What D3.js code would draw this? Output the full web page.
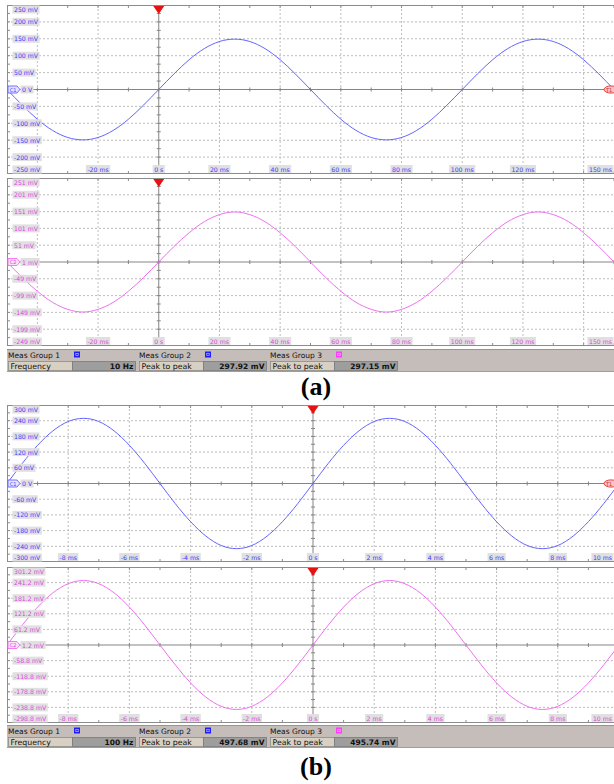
<!DOCTYPE html>
<html>
<head>
<meta charset="utf-8">
<script src="https://cdn.jsdelivr.net/npm/d3@7/dist/d3.min.js"></script>
<style>
  html, body { margin: 0; padding: 0; background: #fff; }
  svg { display: block; }
</style>
</head>
<body>
<script>
// ---- Capture (a): 10 Hz, 20 ms/div ----
const timeA = [-50,-45,-40,-35,-30,-25,-20,-15,-10,-5,0,5,10,15,20,25,30,35,40,45,50,
               55,60,65,70,75,80,85,90,95,100,105,110,115,120,125,130,135,140,145,150];
const ch1A = [0,-46,-88,-121,-142,-149,-142,-121,-88,-46,0,46,88,121,142,149,142,121,88,46,0,
              -46,-88,-121,-142,-149,-142,-121,-88,-46,0,46,88,121,142,149,142,121,88,46,0];
const ch2A = [1,-45,-86,-119,-140,-148,-140,-119,-86,-45,1,47,88,121,142,150,142,121,88,47,1,
              -45,-86,-119,-140,-148,-140,-119,-86,-45,1,47,88,121,142,150,142,121,88,47,1];
const yTicksA1 = [250,200,150,100,50,0,-50,-100,-150,-200,-250];
const yLabelsA1 = ["250 mV","200 mV","150 mV","100 mV","50 mV","0 V","-50 mV","-100 mV","-150 mV","-200 mV","-250 mV"];
const yTicksA2 = [251,201,151,101,51,1,-49,-99,-149,-199,-249];
const yLabelsA2 = ["251 mV","201 mV","151 mV","101 mV","51 mV","1 mV","-49 mV","-99 mV","-149 mV","-199 mV","-249 mV"];
const xTicksA = [-20,0,20,40,60,80,100,120,150];
const xLabelsA = ["-20 ms","0 s","20 ms","40 ms","60 ms","80 ms","100 ms","120 ms","150 ms"];
const measNamesA = ["Frequency","Peak to peak","Peak to peak"];
const measValuesA = ["10 Hz","297.92 mV","297.15 mV"];

// ---- Capture (b): 100 Hz, 2 ms/div ----
const timeB = [-10,-9.5,-9,-8.5,-8,-7.5,-7,-6.5,-6,-5.5,-5,-4.5,-4,-3.5,-3,-2.5,-2,-1.5,-1,-0.5,0,
               0.5,1,1.5,2,2.5,3,3.5,4,4.5,5,5.5,6,6.5,7,7.5,8,8.5,9,9.5,10];
const ch1B = [0,77,146,201,237,249,237,201,146,77,0,-77,-146,-201,-237,-249,-237,-201,-146,-77,0,
              77,146,201,237,249,237,201,146,77,0,-77,-146,-201,-237,-249,-237,-201,-146,-77,0];
const ch2B = [1.2,77.8,147,201.7,237,249.1,237,201.7,147,77.8,1.2,-75.4,-144.6,-199.3,-234.6,-246.7,-234.6,-199.3,-144.6,-75.4,1.2,
              77.8,147,201.7,237,249.1,237,201.7,147,77.8,1.2,-75.4,-144.6,-199.3,-234.6,-246.7,-234.6,-199.3,-144.6,-75.4,1.2];
const yTicksB1 = [300,240,180,120,60,0,-60,-120,-180,-240,-300];
const yLabelsB1 = ["300 mV","240 mV","180 mV","120 mV","60 mV","0 V","-60 mV","-120 mV","-180 mV","-240 mV","-300 mV"];
const yTicksB2 = [301.2,241.2,181.2,121.2,61.2,1.2,-58.8,-118.8,-178.8,-238.8,-298.8];
const yLabelsB2 = ["301.2 mV","241.2 mV","181.2 mV","121.2 mV","61.2 mV","1.2 mV","-58.8 mV","-118.8 mV","-178.8 mV","-238.8 mV","-298.8 mV"];
const xTicksB = [-8,-6,-4,-2,0,2,4,6,8,10];
const xLabelsB = ["-8 ms","-6 ms","-4 ms","-2 ms","0 s","2 ms","4 ms","6 ms","8 ms","10 ms"];
const measNamesB = ["Frequency","Peak to peak","Peak to peak"];
const measValuesB = ["100 Hz","497.68 mV","495.74 mV"];

const groupNames = ["Meas Group 1","Meas Group 2","Meas Group 3"];

// ---- styling ----
const W = 614, H = 784;
const LEFT = 7, RIGHT = 614;
const C1 = { trace: "#6464ff", text: "#3b3bff", badge: "#e4e4ff" };
const C2 = { trace: "#f070f0", text: "#dc46dc", badge: "#fbe0fb" };
const GRID = "#bdbdbd", FRAME = "#8c8c8c", AXIS = "#858585";
const LABEL_BG = "#e0e0e0";
const LABEL_FONT = "DejaVu Sans, Verdana, sans-serif";

const svg = d3.select("body").append("svg")
  .attr("width", W).attr("height", H)
  .attr("viewBox", `0 0 ${W} ${H}`);

let clipCount = 0;

function boxedLabel(g, text, cx, cy, color, anchor, rightLimit) {
  const t = g.append("text")
    .attr("font-family", LABEL_FONT)
    .attr("font-size", 6.2)
    .attr("fill", color)
    .attr("dominant-baseline", "central")
    .text(text);
  const w = t.node().getComputedTextLength();
  let x0 = anchor === "start" ? cx : cx - w / 2;
  if (rightLimit !== undefined && x0 + w > rightLimit) x0 = rightLimit - w;
  t.attr("x", x0).attr("y", cy);
  g.insert("rect", () => t.node())
    .attr("x", x0 - 1.5).attr("y", cy - 4)
    .attr("width", w + 3).attr("height", 8)
    .attr("fill", LABEL_BG);
}

function drawPanel(p) {
  const g = svg.append("g");
  const x = p.x;
  const y = d3.scaleLinear().domain(p.yDomain).range([p.bottom, p.top]);
  const yMid = (p.yDomain[0] + p.yDomain[1]) / 2;
  const yDiv = (p.yDomain[1] - p.yDomain[0]) / 10;
  const xd = x.domain();
  const id = "clip" + (clipCount++);
  g.append("clipPath").attr("id", id).append("rect")
    .attr("x", LEFT).attr("y", p.top).attr("width", RIGHT - LEFT).attr("height", p.bottom - p.top);

  g.append("rect").attr("x", LEFT).attr("y", p.top)
    .attr("width", RIGHT - LEFT).attr("height", p.bottom - p.top).attr("fill", "#fff");

  const body = g.append("g").attr("clip-path", `url(#${id})`);

  // dashed graticule
  const xGrid = d3.range(Math.ceil(xd[0] / p.xDiv) * p.xDiv, xd[1] + 1e-9, p.xDiv)
    .filter(v => Math.abs(v) > 1e-9 && x(v) > LEFT + 0.5 && x(v) < RIGHT);
  const yGrid = d3.range(1, 5).flatMap(k => [yMid + k * yDiv, yMid - k * yDiv]);
  body.selectAll(null).data(xGrid).join("line")
    .attr("x1", d => x(d)).attr("x2", d => x(d)).attr("y1", p.top).attr("y2", p.bottom)
    .attr("stroke", GRID).attr("stroke-width", 1).attr("stroke-dasharray", "2,2");
  body.selectAll(null).data(yGrid).join("line")
    .attr("x1", LEFT).attr("x2", RIGHT).attr("y1", d => y(d)).attr("y2", d => y(d))
    .attr("stroke", GRID).attr("stroke-width", 1).attr("stroke-dasharray", "2,2");

  // centre axes with half-division ticks
  body.append("line").attr("x1", LEFT).attr("x2", RIGHT).attr("y1", y(yMid)).attr("y2", y(yMid))
    .attr("stroke", AXIS).attr("stroke-width", 1);
  body.append("line").attr("x1", x(0)).attr("x2", x(0)).attr("y1", p.top).attr("y2", p.bottom)
    .attr("stroke", AXIS).attr("stroke-width", 1);
  const xHalf = d3.range(Math.ceil(xd[0] / (p.xDiv / 2)) * (p.xDiv / 2), xd[1] + 1e-9, p.xDiv / 2);
  const yHalf = d3.range(p.yDomain[0], p.yDomain[1] + 1e-9, yDiv / 2);
  body.selectAll(null).data(xHalf).join("line")
    .attr("x1", d => x(d)).attr("x2", d => x(d))
    .attr("y1", y(yMid) - 2).attr("y2", y(yMid) + 2)
    .attr("stroke", AXIS).attr("stroke-width", 1);
  body.selectAll(null).data(yHalf).join("line")
    .attr("x1", x(0) - 2).attr("x2", x(0) + 2)
    .attr("y1", d => y(d)).attr("y2", d => y(d))
    .attr("stroke", AXIS).attr("stroke-width", 1);

  // frame ticks every half division
  body.selectAll(null).data(xHalf).join("line")
    .attr("x1", d => x(d)).attr("x2", d => x(d)).attr("y1", p.top).attr("y2", p.top + 3)
    .attr("stroke", FRAME);
  body.selectAll(null).data(xHalf).join("line")
    .attr("x1", d => x(d)).attr("x2", d => x(d)).attr("y1", p.bottom - 3).attr("y2", p.bottom)
    .attr("stroke", FRAME);
  body.selectAll(null).data(yHalf).join("line")
    .attr("x1", LEFT).attr("x2", LEFT + 3).attr("y1", d => y(d)).attr("y2", d => y(d))
    .attr("stroke", FRAME);

  // waveform
  const line = d3.line().x((d, i) => x(p.t[i])).y(d => y(d)).curve(d3.curveNatural);
  body.append("path").datum(p.v).attr("d", line)
    .attr("fill", "none").attr("stroke", p.color.trace).attr("stroke-width", 1);

  // frame
  g.append("rect").attr("x", LEFT + 0.5).attr("y", p.top + 0.5)
    .attr("width", RIGHT - LEFT).attr("height", p.bottom - p.top - 1)
    .attr("fill", "none").attr("stroke", FRAME).attr("stroke-width", 1);

  // amplitude labels (the zero-line label sits right of the channel badge)
  const lab = g.append("g");
  p.yTicks.forEach((v, i) => {
    const cy = Math.max(p.top + 4.5, Math.min(p.bottom - 4.5, y(v)));
    const onZero = Math.abs(v - yMid) < 1e-9;
    boxedLabel(lab, p.yLabels[i], onZero ? LEFT + 15 : 14, cy, p.color.text, "start");
  });
  // time labels
  p.xTicks.forEach((v, i) => {
    boxedLabel(lab, p.xLabels[i], x(v), p.bottom - 5, p.color.text, "middle", 612);
  });

  // channel badge on the zero line
  const zy = y(yMid);
  const badge = g.append("g");
  badge.append("path")
    .attr("d", `M${LEFT + 1},${zy - 3.5} L${LEFT + 10},${zy - 3.5} L${LEFT + 13},${zy} L${LEFT + 10},${zy + 3.5} L${LEFT + 1},${zy + 3.5} Z`)
    .attr("fill", p.color.badge).attr("stroke", p.color.trace).attr("stroke-width", 0.9);
  badge.append("text").attr("x", LEFT + 6).attr("y", zy + 0.3)
    .attr("text-anchor", "middle").attr("dominant-baseline", "central")
    .attr("font-family", LABEL_FONT).attr("font-size", 5).attr("fill", p.color.text)
    .text(p.channel);

  // trigger level badge (right edge)
  if (p.trigger) {
    g.append("ellipse").attr("cx", RIGHT - 3).attr("cy", zy).attr("rx", 7).attr("ry", 3.6)
      .attr("fill", "#ffc4c4").attr("stroke", "#e03030").attr("stroke-width", 0.9);
    g.append("text").attr("x", RIGHT - 5).attr("y", zy + 0.3)
      .attr("text-anchor", "middle").attr("dominant-baseline", "central")
      .attr("font-family", LABEL_FONT).attr("font-size", 5).attr("fill", "#d02020")
      .text("T1");
  }

  // trigger position marker
  const tx = x(0);
  g.append("path")
    .attr("d", `M${tx - 5.5},${p.top + 1} L${tx + 5.5},${p.top + 1} L${tx},${p.top + 9} Z`)
    .attr("fill", "#e81010");
}

function drawMeasBar(top, names, values) {
  const g = svg.append("g");
  g.append("rect").attr("x", LEFT).attr("y", top).attr("width", RIGHT - LEFT).attr("height", 23)
    .attr("fill", "#c5bdb9");
  g.append("line").attr("x1", LEFT).attr("x2", RIGHT).attr("y1", top + 0.5).attr("y2", top + 0.5)
    .attr("stroke", "#9a9490");
  g.append("line").attr("x1", LEFT).attr("x2", RIGHT).attr("y1", top + 22.5).attr("y2", top + 22.5)
    .attr("stroke", "#a39c98");
  const colX = [8, 139, 270];
  const iconColors = ["#1e1eff", "#1e1eff", "#ff3cff"];
  colX.forEach((cx, i) => {
    g.append("text").attr("x", cx).attr("y", top + 8.5)
      .attr("font-family", "DejaVu Sans, Verdana, sans-serif").attr("font-size", 7.5)
      .attr("fill", "#111").text(groupNames[i]);
    g.append("rect").attr("x", cx + 66).attr("y", top + 2.5).attr("width", 6).attr("height", 6)
      .attr("fill", iconColors[i]);
    g.append("rect").attr("x", cx + 67.8).attr("y", top + 4.3).attr("width", 2.4).attr("height", 2.4)
      .attr("fill", "none").attr("stroke", "#ffffff").attr("stroke-width", 0.6).attr("opacity", 0.8);
    // name cell
    g.append("rect").attr("x", cx + 0.5).attr("y", top + 12.5).attr("width", 64).attr("height", 9)
      .attr("fill", "#d8d0c2").attr("stroke", "#8e8a86").attr("stroke-width", 0.8);
    g.append("text").attr("x", cx + 2.5).attr("y", top + 20)
      .attr("font-family", "DejaVu Sans, Verdana, sans-serif").attr("font-size", 7.8)
      .attr("fill", "#111").text(names[i]);
    // value cell
    g.append("rect").attr("x", cx + 64.5).attr("y", top + 12.5).attr("width", 63).attr("height", 9)
      .attr("fill", "#9e9e9e").attr("stroke", "#7a7a7a").attr("stroke-width", 0.8);
    g.append("text").attr("x", cx + 125.5).attr("y", top + 20).attr("text-anchor", "end")
      .attr("font-family", "DejaVu Sans, Verdana, sans-serif").attr("font-size", 7.5)
      .attr("font-weight", "bold").attr("fill", "#111").text(values[i]);
  });
}

function caption(text, baseline) {
  svg.append("text").attr("x", 316).attr("y", baseline).attr("text-anchor", "middle")
    .attr("font-family", "Liberation Serif, Times New Roman, serif")
    .attr("font-weight", "bold").attr("font-size", 26).attr("fill", "#000")
    .text(text);
}

// ---- (a) ----
const xA = d3.scaleLinear().domain([-50, 150]).range([LEFT, RIGHT]);
drawPanel({ x: xA, xDiv: 20, top: 5, bottom: 174, yDomain: [-250, 250],
  yTicks: yTicksA1, yLabels: yLabelsA1, xTicks: xTicksA, xLabels: xLabelsA,
  t: timeA, v: ch1A, color: C1, channel: "C1", trigger: true });
drawPanel({ x: xA, xDiv: 20, top: 178, bottom: 346, yDomain: [-249, 251],
  yTicks: yTicksA2, yLabels: yLabelsA2, xTicks: xTicksA, xLabels: xLabelsA,
  t: timeA, v: ch2A, color: C2, channel: "C2", trigger: false });
drawMeasBar(349, measNamesA, measValuesA);
caption("(a)", 395);

// ---- (b) ----
const xB = d3.scaleLinear().domain([-10, 10]).range([LEFT, 619]);
drawPanel({ x: xB, xDiv: 2, top: 405, bottom: 562, yDomain: [-300, 300],
  yTicks: yTicksB1, yLabels: yLabelsB1, xTicks: xTicksB, xLabels: xLabelsB,
  t: timeB, v: ch1B, color: C1, channel: "C1", trigger: true });
drawPanel({ x: xB, xDiv: 2, top: 567, bottom: 723, yDomain: [-298.8, 301.2],
  yTicks: yTicksB2, yLabels: yLabelsB2, xTicks: xTicksB, xLabels: xLabelsB,
  t: timeB, v: ch2B, color: C2, channel: "C2", trigger: false });
drawMeasBar(725, measNamesB, measValuesB);
caption("(b)", 775);
</script>
</body>
</html>
